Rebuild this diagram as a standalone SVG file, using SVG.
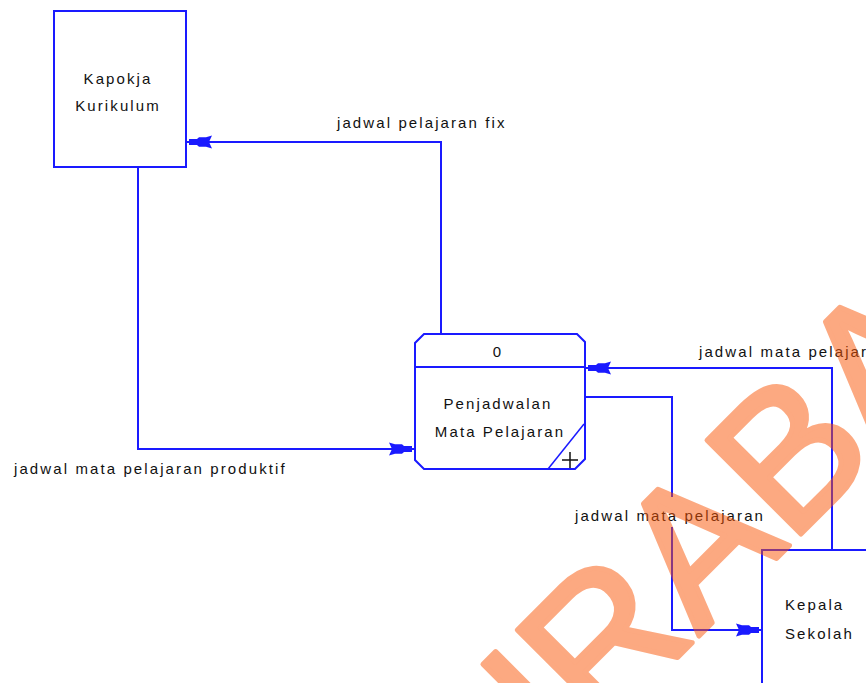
<svg xmlns="http://www.w3.org/2000/svg" width="866" height="683" viewBox="0 0 866 683">
<defs>
<style>
.box{fill:#fff;stroke:#1a1aff;stroke-width:2}
.conn{fill:none;stroke:#1a1aff;stroke-width:2}
.lbl{font-family:"Liberation Sans",Arial,sans-serif;font-size:15px;letter-spacing:2.1px;fill:#111}
.ctr{text-anchor:middle}
.wm{font-family:"Liberation Sans",Arial,sans-serif;font-size:193px;fill:#fa5505;stroke:#fa5505;stroke-width:5;stroke-linejoin:round}
</style>
<marker id="arr" markerUnits="userSpaceOnUse" viewBox="-28 -8 30 16" refX="0" refY="0" markerWidth="30" markerHeight="16" orient="auto">
<path d="M-3,-3 L-11,-3 L-13,-4.8 L-20,-4.8 L-26,-6.5 L-23,0 L-26,6.5 L-20,4.8 L-13,4.8 L-11,3 L-3,3 Z" fill="#1a1aff"/>
</marker>
</defs>
<rect width="866" height="683" fill="#fff"/>

<g id="connectors">
<path class="conn" d="M138,167 V449 H415" marker-end="url(#arr)"/>
<path class="conn" d="M441,334 V142 H186" marker-end="url(#arr)"/>
<path class="conn" d="M832,550 V368 H585" marker-end="url(#arr)"/>
<path class="conn" d="M585,397 H672 V497 M672,527 V630 H762" marker-end="url(#arr)"/>
<text class="lbl" x="337" y="128">jadwal pelajaran fix</text>
<text class="lbl" x="14" y="474">jadwal mata pelajaran produktif</text>
<text class="lbl" x="699" y="357">jadwal mata pelajaran</text>
<text class="lbl" x="575" y="521">jadwal mata pelajaran</text>
</g>

<g id="kapokja">
<rect class="box" x="54" y="11" width="132" height="156"/>
<text class="lbl ctr" x="118" y="84">Kapokja</text>
<text class="lbl ctr" x="118" y="111">Kurikulum</text>
</g>

<g id="process0">
<path class="box" d="M424,334 H577 L585,342 V459 L575,469 H424 L415,460 V343 Z"/>
<line class="conn" x1="415" y1="367" x2="585" y2="367"/>
<line x1="548" y1="469" x2="584" y2="424" stroke="#1a1aff" stroke-width="1.5"/>
<path d="M562,460 H578 M570,452 V468" stroke="#111" stroke-width="1.5" fill="none"/>
<text class="lbl ctr" x="498" y="357">0</text>
<text class="lbl ctr" x="498" y="409">Penjadwalan</text>
<text class="lbl ctr" x="500" y="437">Mata Pelajaran</text>
</g>

<g id="kepala">
<rect class="box" x="762" y="550" width="200" height="200"/>
<text class="lbl" x="785" y="610">Kepala</text>
<text class="lbl" x="785" y="639">Sekolah</text>
</g>

<g opacity="0.5">
<text class="wm" transform="translate(600,735) rotate(-45)" x="-268" y="0">SURABAYA</text>
</g>
</svg>
